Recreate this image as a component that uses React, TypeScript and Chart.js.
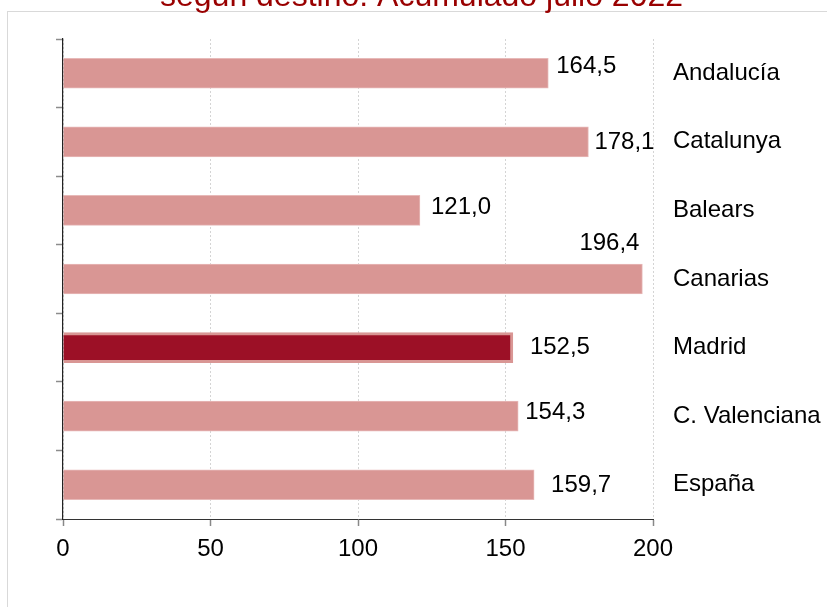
import React, { useEffect, useRef } from 'react';
import { Chart, registerables } from 'chart.js';

Chart.register(...registerables);

const categories = ['Andalucía', 'Catalunya', 'Balears', 'Canarias', 'Madrid', 'C. Valenciana', 'España'];
const values = [164.5, 178.1, 121.0, 196.4, 152.5, 154.3, 159.7];
const highlighted = 'Madrid';
const xMin = 0;
const xMax = 200;
const xStep = 50;
const titleText = 'según destino. Acumulado julio 2022';

// label placement offsets (style, px relative to bar end / centre)
const labelDx = [8, 6, 11, -63, 17, 7, 17];
const labelDy = [-7, 1, -3, -36, 0, -4, 1];

const FONT = "'Liberation Sans', Arial, sans-serif";
const PINK = '#D99694';
const PINK_EDGE = '#E7B9B8';
const DARK = '#9C1026';

const fmt = (v: number) => v.toFixed(1).replace('.', ',');

const framePlugin = {
  id: 'frame',
  beforeDraw(chart: any) {
    const ctx = chart.ctx;
    ctx.save();
    ctx.fillStyle = '#ffffff';
    ctx.fillRect(0, 0, chart.width, chart.height);
    ctx.strokeStyle = '#D9D9D9';
    ctx.lineWidth = 1;
    ctx.strokeRect(7.5, 11.5, chart.width + 50, chart.height + 50);
    ctx.fillStyle = '#990000';
    ctx.font = `32px ${FONT}`;
    ctx.textAlign = 'center';
    ctx.textBaseline = 'alphabetic';
    ctx.fillText(titleText, 421.5, 6);
    ctx.restore();
  },
};

const valueLabelPlugin = {
  id: 'valueLabels',
  afterDatasetsDraw(chart: any) {
    const ctx = chart.ctx;
    const meta = chart.getDatasetMeta(0);
    ctx.save();
    ctx.fillStyle = '#000000';
    ctx.font = `24px ${FONT}`;
    ctx.textAlign = 'left';
    ctx.textBaseline = 'middle';
    meta.data.forEach((bar: any, i: number) => {
      ctx.fillText(fmt(values[i]), bar.x + labelDx[i], bar.y + labelDy[i]);
    });
    ctx.restore();
  },
};

export default function App() {
  const ref = useRef<HTMLCanvasElement | null>(null);

  useEffect(() => {
    if (!ref.current) return;
    const chart = new Chart(ref.current, {
      type: 'bar',
      data: {
        labels: categories,
        datasets: [
          {
            data: values,
            backgroundColor: categories.map((c) => (c === highlighted ? DARK : PINK)),
            borderColor: categories.map((c) => (c === highlighted ? PINK : PINK_EDGE)),
            borderWidth: categories.map((c) => (c === highlighted ? 3 : 1)),
            barThickness: 30,
            yAxisID: 'y',
          },
        ],
      },
      options: {
        indexAxis: 'y',
        responsive: false,
        maintainAspectRatio: false,
        animation: false,
        layout: { padding: { top: 39, left: 0, right: 0, bottom: 0 } },
        plugins: {
          legend: { display: false },
          tooltip: { enabled: false },
          title: { display: false },
        },
        scales: {
          x: {
            type: 'linear',
            min: xMin,
            max: xMax,
            ticks: {
              stepSize: xStep,
              color: '#000000',
              font: { family: FONT, size: 24 },
              padding: 9,
            },
            grid: {
              color: '#D4D4D4',
              lineWidth: 1,
              tickColor: '#888888',
              tickLength: 7,
              tickWidth: 1.5,
            },
            border: { color: '#333333', width: 1, dash: [2, 2] },
            afterFit(scale: any) {
              scale.height = 88;
            },
          },
          y: {
            type: 'category',
            position: 'left',
            offset: true,
            ticks: { display: false },
            grid: {
              offset: true,
              drawOnChartArea: false,
              drawTicks: true,
              tickLength: 7,
              tickColor: '#8C8C8C',
              tickWidth: 1.5,
            },
            border: { color: '#222222', width: 1.2 },
            afterFit(scale: any) {
              scale.width = 63;
            },
          },
          y2: {
            type: 'category',
            position: 'right',
            labels: categories,
            offset: true,
            ticks: {
              color: '#000000',
              font: { family: FONT, size: 24 },
              padding: 20,
            },
            grid: { display: false, drawTicks: false, drawOnChartArea: false },
            border: { display: false },
            afterFit(scale: any) {
              scale.width = 174;
            },
          },
        },
      },
      plugins: [framePlugin, valueLabelPlugin],
    } as any);
    return () => chart.destroy();
  }, []);

  return (
    <div style={{ position: 'fixed', left: 0, top: 0, width: 827, height: 607, background: '#fff' }}>
      <canvas ref={ref} width={827} height={607} style={{ display: 'block' }} />
    </div>
  );
}
